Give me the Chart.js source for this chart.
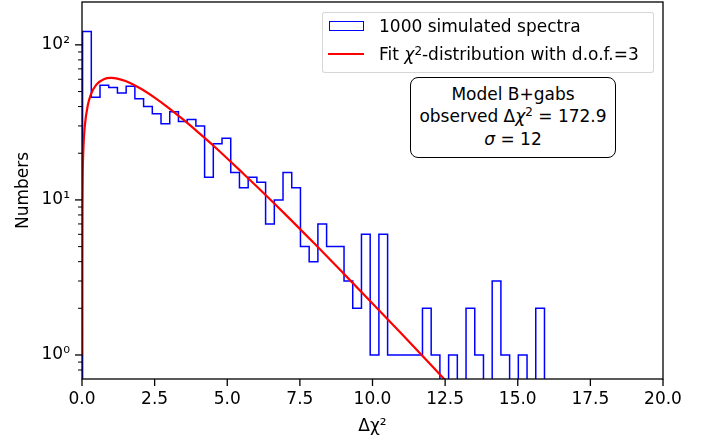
<!DOCTYPE html>
<html>
<head>
<meta charset="utf-8">
<script src="https://cdn.jsdelivr.net/npm/chart.js@4/dist/chart.umd.min.js"></script>
<style>
  html, body { margin: 0; padding: 0; background: #fff; }
  #wrap { position: relative; width: 707px; height: 441px; font-family: 'DejaVu Sans', sans-serif; font-size: 17px; color: #000; }
  #chart { position: absolute; left: 0; top: 0; }
  .sup { font-size: 0.7em; position: relative; top: -0.45em; }
  .legend { position: absolute; left: 322px; top: 12px; width: 330px; height: 59px; border: 1px solid rgba(204,204,204,0.8); border-radius: 3px; background: rgba(255,255,255,0.8); }
  .legend .txt { position: absolute; left: 56px; line-height: 20px; white-space: nowrap; }
  .patch { position: absolute; left: 6px; top: 8px; width: 33px; height: 8px; border: 1.5px solid #0000ff; }
  .fitline { position: absolute; left: 5px; top: 40px; width: 36px; height: 2px; background: #ff0000; }
  .note { position: absolute; left: 410px; top: 77px; width: 204px; height: 73px; border: 1.3px solid #000; border-radius: 8px; background: #fff; text-align: center; line-height: 21.5px; padding-top: 6px; white-space: nowrap; }
</style>
</head>
<body>
<div id="wrap">
  <canvas id="chart" width="707" height="441"></canvas>
  <div class="legend">
    <div class="patch"></div>
    <div class="txt" style="top:3px">1000 simulated spectra</div>
    <div class="fitline"></div>
    <div class="txt" style="top:31px">Fit <i>χ</i><span class="sup">2</span>-distribution with d.o.f.=3</div>
  </div>
  <div class="note">
    Model B+gabs<br>
    observed Δ<i>χ</i><span class="sup">2</span> = 172.9<br>
    <i>σ</i> = 12
  </div>
</div>
<script>
// bin edges of the histogram (Δχ²)
var binEdges = [0.02, 0.32, 0.62, 0.92, 1.22, 1.52, 1.82, 2.12, 2.42, 2.72,
  3.02, 3.32, 3.62, 3.92, 4.22, 4.52, 4.82, 5.12, 5.42, 5.72,
  6.02, 6.32, 6.62, 6.92, 7.22, 7.52, 7.82, 8.12, 8.42, 8.72,
  9.02, 9.32, 9.62, 9.92, 10.22, 10.52, 10.82, 11.12, 11.42, 11.72,
  12.02, 12.32, 12.62, 12.92, 13.22, 13.52, 13.82, 14.12, 14.42, 14.72,
  15.02, 15.32, 15.62, 15.92];

// counts per bin
var binCounts = [122, 46, 55, 53, 49, 54, 45, 40, 36, 31,
  37, 32, 33, 30, 14, 23, 25, 15, 12, 14,
  13, 7, 10, 15, 12, 5, 4, 7, 5, 5,
  3, 2, 6, 1, 6, 1, 1, 1, 1, 2,
  1, 0, 1, 0, 2, 1, 0, 3, 1, 0,
  1, 0, 2];

// red fit curve
var fitX = [0.0001, 0.001, 0.005, 0.01, 0.02, 0.05, 0.1, 0.2, 0.3, 0.5,
  0.75, 1, 1.25, 1.5, 2, 2.5, 3, 3.5, 4, 4.5,
  5, 5.5, 6, 7, 8, 9, 10, 11, 12, 13];
var fitY = [1.0, 3.2, 7.1, 10.0, 14.1, 22.0, 30.4, 40.8, 47.6, 55.6,
  60.1, 61.2, 60.4, 58.4, 52.5, 45.7, 39.0, 32.8, 27.3, 22.6,
  18.5, 15.1, 12.3, 8.07, 5.23, 3.36, 2.15, 1.37, 0.867, 0.547];

var xTickValues = [0, 2.5, 5, 7.5, 10, 12.5, 15, 17.5, 20];
var yTickValues = [0.8, 0.9, 1, 2, 3, 4, 5, 6, 7, 8, 9, 10, 20, 30, 40, 50, 60, 70, 80, 90, 100];
var yMajorLabels = { 1: '10⁰', 10: '10¹', 100: '10²' };

// step outline of the histogram (zero counts fall below the axis and get clipped)
var FLOOR = 0.01;
var histPts = [{ x: binEdges[0], y: FLOOR }];
for (var i = 0; i < binCounts.length; i++) {
  var c = binCounts[i] > 0 ? binCounts[i] : FLOOR;
  histPts.push({ x: binEdges[i], y: c });
  histPts.push({ x: binEdges[i + 1], y: c });
}
histPts.push({ x: binEdges[binEdges.length - 1], y: FLOOR });

var fitPts = fitX.map(function(x, k) { return { x: x, y: fitY[k] }; });

// frame and tick marks (major / minor lengths differ)
var axesFrame = {
  id: 'axesFrame',
  afterDatasetsDraw: function(chart) {
    var ctx = chart.ctx, a = chart.chartArea, sx = chart.scales.x, sy = chart.scales.y;
    ctx.save();
    ctx.strokeStyle = '#000';
    ctx.lineWidth = 1.3;
    ctx.strokeRect(a.left, a.top, a.right - a.left, a.bottom - a.top);
    ctx.beginPath();
    xTickValues.forEach(function(v) {
      var px = sx.getPixelForValue(v);
      ctx.moveTo(px, a.bottom);
      ctx.lineTo(px, a.bottom + 7);
    });
    ctx.stroke();
    yTickValues.forEach(function(v) {
      var py = sy.getPixelForValue(v);
      var major = !!yMajorLabels[v];
      ctx.beginPath();
      ctx.lineWidth = major ? 1.3 : 1;
      ctx.moveTo(a.left - (major ? 7 : 4), py);
      ctx.lineTo(a.left, py);
      ctx.stroke();
    });
    ctx.restore();
  }
};

Chart.defaults.font.family = "'DejaVu Sans', sans-serif";
Chart.defaults.font.size = 17;
Chart.defaults.color = '#000';

new Chart(document.getElementById('chart').getContext('2d'), {
  type: 'line',
  data: {
    datasets: [
      {
        label: 'Fit χ²-distribution with d.o.f.=3',
        data: fitPts,
        borderColor: '#ff0000',
        borderWidth: 2.2,
        pointRadius: 0,
        cubicInterpolationMode: 'monotone',
        fill: false,
        order: 0
      },
      {
        label: '1000 simulated spectra',
        data: histPts,
        borderColor: '#0000ff',
        borderWidth: 1.5,
        pointRadius: 0,
        tension: 0,
        fill: false,
        order: 1
      }
    ]
  },
  options: {
    responsive: false,
    animation: false,
    devicePixelRatio: 1,
    layout: { padding: { top: 2, right: 44, left: 0, bottom: 0 } },
    plugins: { legend: { display: false }, tooltip: { enabled: false } },
    scales: {
      x: {
        type: 'linear',
        min: 0, max: 20,
        afterBuildTicks: function(s) { s.ticks = xTickValues.map(function(v) { return { value: v }; }); },
        ticks: { autoSkip: false, maxRotation: 0, padding: 3, callback: function(v) { return v.toFixed(1); } },
        grid: { drawOnChartArea: false, tickLength: 7, color: 'rgba(0,0,0,0)' },
        border: { display: false },
        title: { display: true, text: 'Δχ²', padding: { top: 4, bottom: 4 } },
        afterFit: function(s) { s.height = 62; s.paddingLeft = 0; s.paddingRight = 0; }
      },
      y: {
        type: 'logarithmic',
        min: 0.711, max: 189,
        afterBuildTicks: function(s) { s.ticks = yTickValues.map(function(v) { return { value: v }; }); },
        ticks: { autoSkip: false, padding: 5, callback: function(v) { return yMajorLabels[v] || ''; } },
        grid: { drawOnChartArea: false, tickLength: 7, color: 'rgba(0,0,0,0)' },
        border: { display: false },
        title: { display: true, text: 'Numbers', padding: { top: 13, bottom: 13 } },
        afterFit: function(s) { s.width = 82; s.paddingTop = 0; s.paddingBottom = 0; }
      }
    }
  },
  plugins: [axesFrame]
});
</script>
</body>
</html>
